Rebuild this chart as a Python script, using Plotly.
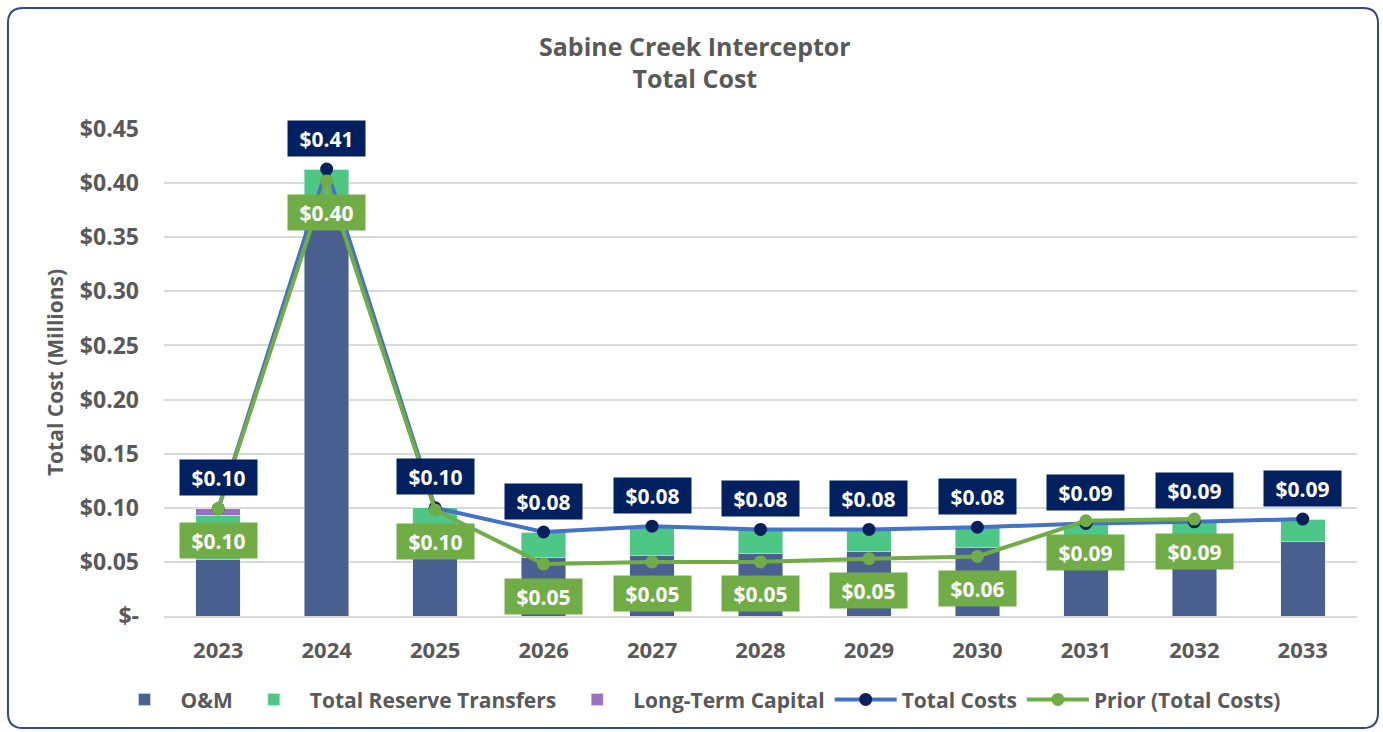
import plotly.graph_objects as go

years = [2023, 2024, 2025, 2026, 2027, 2028, 2029, 2030, 2031, 2032, 2033]
om = [0.052, 0.385, 0.055, 0.0545, 0.056, 0.058, 0.060, 0.063, 0.066, 0.068, 0.069]
reserve = [0.041, 0.028, 0.045, 0.023, 0.027, 0.022, 0.020, 0.019, 0.0195, 0.019, 0.0206]
ltc = [0.006, 0, 0, 0, 0, 0, 0, 0, 0, 0, 0]
total_costs = [0.099, 0.413, 0.100, 0.0776, 0.083, 0.080, 0.080, 0.082, 0.0855, 0.087, 0.0896]
prior_years = years[:10]
prior_costs = [0.099, 0.402, 0.098, 0.048, 0.050, 0.050, 0.053, 0.055, 0.088, 0.0896]

C_OM = "#4A6090"
C_RES = "#4CC785"
C_LTC = "#9B6FC0"
C_TOT_LINE = "#4472C4"
C_TOT_MK = "#0B1F5C"
C_PRIOR = "#70AD47"
GRAY = "#595959"
FONT = "Open Sans"

fig = go.Figure()
fig.add_bar(x=years, y=om, name="O&M", marker_color=C_OM, width=0.41)
fig.add_bar(x=years, y=reserve, name="Total Reserve Transfers", marker_color=C_RES, width=0.41)
fig.add_bar(x=years, y=ltc, name="Long-Term Capital", marker_color=C_LTC, width=0.41)
fig.add_scatter(x=years, y=total_costs, name="Total Costs", mode="lines+markers",
                line=dict(color=C_TOT_LINE, width=4),
                marker=dict(color=C_TOT_MK, size=13))
fig.add_scatter(x=prior_years, y=prior_costs, name="Prior (Total Costs)", mode="lines+markers",
                line=dict(color=C_PRIOR, width=4),
                marker=dict(color=C_PRIOR, size=13))

annotations = []
for x, v in zip(years, total_costs):
    annotations.append(dict(x=x, y=v, xref="x", yref="y", text=f"${v:.2f}", showarrow=False,
                            yshift=31, bgcolor="#002060", width=69, height=27, borderpad=4,
                            font=dict(family=FONT, size=21, color="white", weight="bold")))
for x, v in zip(prior_years, prior_costs):
    annotations.append(dict(x=x, y=v, xref="x", yref="y", text=f"${v:.2f}", showarrow=False,
                            yshift=-32, bgcolor=C_PRIOR, width=69, height=27, borderpad=4,
                            font=dict(family=FONT, size=21, color="white", weight="bold")))
annotations.append(dict(xref="paper", yref="paper", x=0.4455, y=1.0, yanchor="middle",
                        yshift=(616 - 62) - 487, height=80, valign="middle",
                        text="Sabine Creek Interceptor<br>Total Cost", showarrow=False,
                        font=dict(family=FONT, size=25, color=GRAY, weight="bold")))

# rounded border
x0, x1 = -0.1308, 1.0176
y0, y1 = -0.230, 1.2485
rx, ry = 0.0126, 0.031
path = (f"M {x0+rx},{y1} L {x1-rx},{y1} Q {x1},{y1} {x1},{y1-ry} L {x1},{y0+ry} "
        f"Q {x1},{y0} {x1-rx},{y0} L {x0+rx},{y0} Q {x0},{y0} {x0},{y0+ry} "
        f"L {x0},{y1-ry} Q {x0},{y1} {x0+rx},{y1} Z")

fig.update_layout(
    width=1383, height=732,
    barmode="stack",
    paper_bgcolor="white", plot_bgcolor="white",
    margin=dict(l=164, r=26, t=129, b=116),
    font=dict(family=FONT, color=GRAY),
    yaxis=dict(range=[0, 0.45], tickvals=[0, 0.05, 0.1, 0.15, 0.2, 0.25, 0.3, 0.35, 0.4, 0.45],
               ticktext=["$-", "$0.05", "$0.10", "$0.15", "$0.20", "$0.25", "$0.30", "$0.35", "$0.40", "$0.45"],
               gridcolor="#D9D9D9", gridwidth=1.5, zeroline=False, showline=False,
               tickfont=dict(family=FONT, size=23, color=GRAY, weight="bold"), ticklabelstandoff=24,
               title=dict(text="Total Cost (Millions)", standoff=10,
                          font=dict(family=FONT, size=21, color=GRAY, weight="bold"))),
    xaxis=dict(type="linear", range=[2022.5, 2033.5], tickvals=years, ticktext=[str(y) for y in years],
               showgrid=False, zeroline=False, showline=True, linecolor="#D9D9D9", linewidth=1.5,
               tickfont=dict(family=FONT, size=22, color=GRAY, weight="bold"), ticklabelstandoff=14),
    legend=dict(orientation="h", xref="container", x=0.504, xanchor="center",
                yref="container", y=0.044, yanchor="middle",
                font=dict(family=FONT, size=21, color=GRAY, weight="bold"), itemwidth=62,
                traceorder="normal"),
    annotations=annotations,
    shapes=[dict(type="path", xref="paper", yref="paper", path=path,
                 line=dict(color="#2F4A8A", width=2), layer="above")],
    hovermode=False,
)

fig.write_html("out.html", config={"displayModeBar": False},
               post_script="document.body.style.margin='0';document.body.style.overflow='hidden';")
